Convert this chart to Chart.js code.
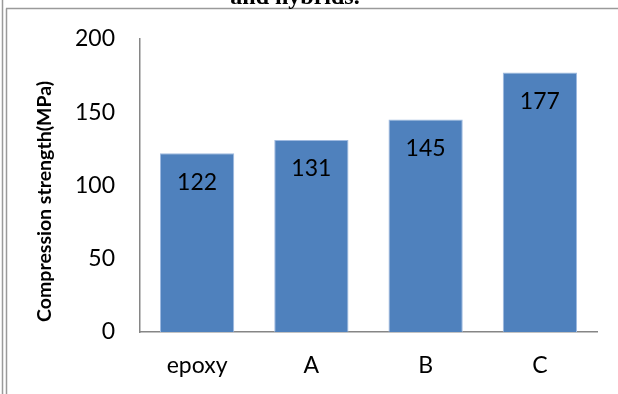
<!DOCTYPE html>
<html>
<head>
<meta charset="utf-8">
<script src="https://cdn.jsdelivr.net/npm/chart.js@4.4.1/dist/chart.umd.min.js"></script>
<style>
  html, body { margin: 0; padding: 0; background: #ffffff; }
  #wrap { width: 618px; height: 394px; position: relative; }
  canvas { display: block; }
</style>
</head>
<body>
<div id="wrap"><canvas id="chart" width="618" height="394"></canvas></div>
<script>
// Compression strength of neat epoxy and the hybrid samples
const categories = ['epoxy', 'A', 'B', 'C'];
const strengths = [122, 131, 145, 177];
const yTickValues = [0, 50, 100, 150, 200];
const axisTitle = 'Compression strength(MPa)';
const captionTail = 'and hybrids.';

const BAR_BLUE = '#4F81BD';
const AXIS_GREY = '#868686';
const FONT = 'Lato, Calibri, "Open Sans", sans-serif';

// Page frame lines and the tail of the caption above the chart
const framePlugin = {
  id: 'frame',
  beforeDraw(chart) {
    const ctx = chart.ctx;
    ctx.save();
    ctx.fillStyle = '#ffffff';
    ctx.fillRect(0, 0, chart.width, chart.height);
    ctx.strokeStyle = '#9a9a9a';
    ctx.lineWidth = 1.5;
    ctx.beginPath();
    ctx.moveTo(2.5, 0); ctx.lineTo(2.5, chart.height);
    ctx.moveTo(6.5, 8.5); ctx.lineTo(6.5, chart.height);
    ctx.moveTo(6, 8.5); ctx.lineTo(chart.width, 8.5);
    ctx.stroke();
    ctx.fillStyle = '#000000';
    ctx.font = 'bold 24px "Liberation Serif", "Times New Roman", serif';
    ctx.textAlign = 'center';
    ctx.textBaseline = 'alphabetic';
    ctx.fillText(captionTail, 295, 4);
    ctx.restore();
  }
};

// Rotated y-axis title, set a little below the middle of the value axis
const yTitlePlugin = {
  id: 'yTitle',
  afterDraw(chart) {
    const ctx = chart.ctx;
    const area = chart.chartArea;
    ctx.save();
    ctx.translate(45, (area.top + area.bottom) / 2 + 16);
    ctx.rotate(-Math.PI / 2);
    ctx.fillStyle = '#000000';
    ctx.font = 'bold 19.5px ' + FONT;
    ctx.textAlign = 'center';
    ctx.textBaseline = 'middle';
    ctx.fillText(axisTitle, 0, 0);
    ctx.restore();
  }
};

// Value written inside the top of each bar
const valueLabels = {
  id: 'valueLabels',
  afterDatasetsDraw(chart) {
    const ctx = chart.ctx;
    const meta = chart.getDatasetMeta(0);
    ctx.save();
    ctx.fillStyle = '#000000';
    ctx.font = '23px ' + FONT;
    ctx.textAlign = 'center';
    ctx.textBaseline = 'middle';
    meta.data.forEach((bar, i) => {
      ctx.fillText(String(strengths[i]), bar.x, bar.y + 29);
    });
    ctx.restore();
  }
};

new Chart(document.getElementById('chart'), {
  type: 'bar',
  data: {
    labels: categories,
    datasets: [{
      data: strengths,
      backgroundColor: BAR_BLUE,
      borderColor: '#9FBAE0',
      borderWidth: 1,
      barPercentage: 0.65,
      categoryPercentage: 1.0
    }]
  },
  options: {
    responsive: false,
    animation: false,
    devicePixelRatio: 1,
    layout: { padding: { left: 30, right: 21, top: 37.5, bottom: 0 } },
    plugins: {
      legend: { display: false },
      tooltip: { enabled: false },
      title: { display: false }
    },
    scales: {
      x: {
        grid: { display: false, drawTicks: false },
        border: { display: true, color: AXIS_GREY, width: 1.5 },
        ticks: { color: '#000000', font: { family: FONT, size: 23 }, padding: 20, maxRotation: 0 },
        afterFit(scale) { scale.height = 62; }
      },
      y: {
        min: 0,
        max: 200,
        afterBuildTicks(scale) { scale.ticks = yTickValues.map(v => ({ value: v })); },
        grid: { display: false, drawTicks: false },
        border: { display: true, color: AXIS_GREY, width: 1.5 },
        ticks: { color: '#000000', font: { family: FONT, size: 23 }, padding: 25 },
        title: { display: false },
        afterFit(scale) { scale.width = 110; }
      }
    }
  },
  plugins: [framePlugin, yTitlePlugin, valueLabels]
});
</script>
</body>
</html>
